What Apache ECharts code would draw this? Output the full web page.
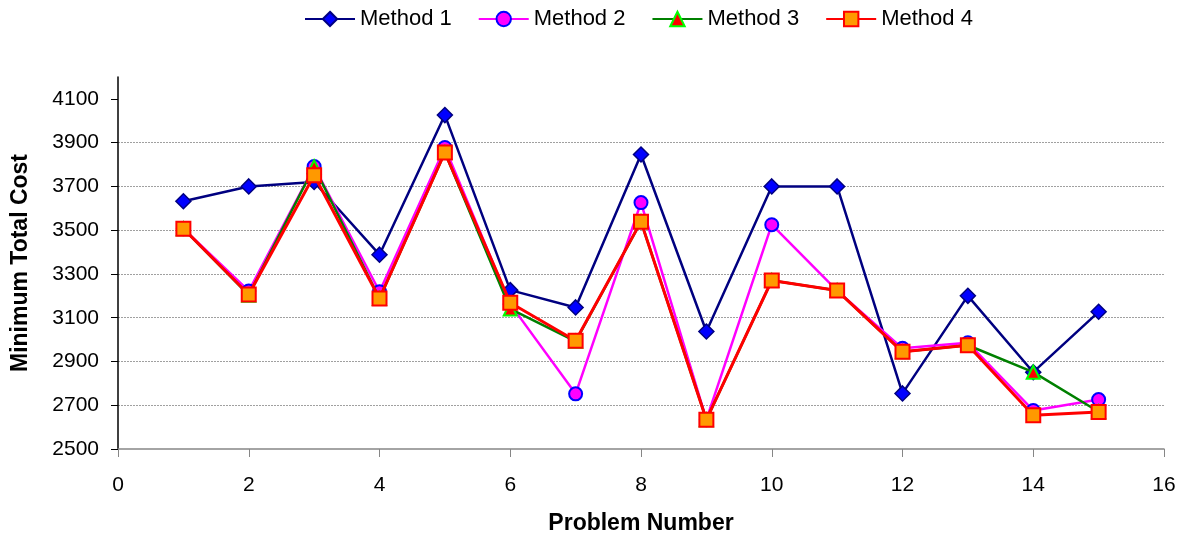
<!DOCTYPE html>
<html>
<head>
<meta charset="utf-8">
<script src="https://cdn.jsdelivr.net/npm/echarts@6/dist/echarts.min.js"></script>
<style>
  html, body { margin: 0; padding: 0; background: #fff; }
  #chart { width: 1192px; height: 542px; }
</style>
</head>
<body>
<div id="chart"></div>
<script>
const problems = [1, 2, 3, 4, 5, 6, 7, 8, 9, 10, 11, 12, 13, 14, 15]
const method1 = [3632, 3700, 3720, 3388, 4026, 3226, 3147, 3846, 3037, 3700, 3700, 2754, 3200, 2851, 3127]
const method2 = [3507, 3222, 3791, 3219, 3878, 3162, 2752, 3626, 2634, 3525, 3224, 2960, 2985, 2676, 2726]
const method3 = [3507, 3203, 3790, 3188, 3855, 3140, 2992, 3539, 2634, 3270, 3224, 2944, 2974, 2851, 2670]
const method4 = [3507, 3206, 3751, 3188, 3855, 3168, 2995, 3539, 2634, 3270, 3224, 2944, 2974, 2654, 2669]
const yTicks = [2500, 2700, 2900, 3100, 3300, 3500, 3700, 3900, 4100]

const pairs = (vals) => problems.map((p, i) => [p, vals[i]])
const font = 'Liberation Sans, Arial, sans-serif'

const chart = echarts.init(document.getElementById('chart'), null, { renderer: 'canvas' })
const option = {
  animation: false,
  textStyle: { fontFamily: font },
  legend: {
    top: 3,
    left: 299,
    itemWidth: 50,
    itemHeight: 18,
    itemGap: 26,
    textStyle: { fontSize: 22, color: '#000', fontFamily: font },
    data: ['Method 1', 'Method 2', 'Method 3', 'Method 4']
  },
  grid: {
    top: 77,
    left: 118,
    right: 28,
    bottom: 93
  },
  xAxis: {
    type: 'value',
    min: 0,
    max: 16,
    interval: 2,
    name: 'Problem Number',
    nameLocation: 'middle',
    nameGap: 63,
    nameTextStyle: { fontSize: 23, fontWeight: 'bold', color: '#000' },
    axisLine: { lineStyle: { color: '#868686', width: 1.5 } },
    axisTick: { inside: false, length: 8, lineStyle: { color: '#868686' } },
    axisLabel: { fontSize: 21, color: '#000', margin: 26 },
    splitLine: { show: false }
  },
  yAxis: {
    type: 'value',
    min: 2500,
    max: 4200,
    interval: 200,
    name: 'Minimum Total Cost',
    nameLocation: 'middle',
    nameRotate: 90,
    nameGap: 86,
    nameTextStyle: { fontSize: 23, fontWeight: 'bold', color: '#000' },
    axisLine: { show: true, lineStyle: { color: '#000', width: 1.5 } },
    axisTick: { show: true, length: 7, lineStyle: { color: '#000' }, customValues: yTicks },
    axisLabel: {
      fontSize: 21,
      color: '#000',
      margin: 19,
      customValues: yTicks,
      formatter: (v) => String(v)
    },
    splitLine: {
      show: true,
      showMinLine: false,
      showMaxLine: false,
      lineStyle: { color: '#a0a0a0', type: [2, 1], width: 1 }
    }
  },
  series: [
    {
      name: 'Method 1',
      type: 'line',
      data: pairs(method1),
      symbol: 'diamond',
      symbolSize: 15,
      lineStyle: { color: '#000080', width: 2.5 },
      itemStyle: { color: '#0000ff', borderColor: '#000080', borderWidth: 1.5 },
      z: 2
    },
    {
      name: 'Method 2',
      type: 'line',
      data: pairs(method2),
      symbol: 'circle',
      symbolSize: 13,
      lineStyle: { color: '#ff00ff', width: 2.5 },
      itemStyle: { color: '#ff00ff', borderColor: '#0000ff', borderWidth: 2 },
      z: 3
    },
    {
      name: 'Method 3',
      type: 'line',
      data: pairs(method3),
      symbol: 'triangle',
      symbolSize: 13,
      lineStyle: { color: '#008000', width: 2.5 },
      itemStyle: { color: '#ff0000', borderColor: '#00ff00', borderWidth: 2 },
      z: 4
    },
    {
      name: 'Method 4',
      type: 'line',
      data: pairs(method4),
      symbol: 'rect',
      symbolSize: 14,
      lineStyle: { color: '#ff0000', width: 3 },
      itemStyle: { color: '#ff9900', borderColor: '#ff0000', borderWidth: 2 },
      z: 5
    }
  ]
}
chart.setOption(option)
</script>
</body>
</html>
